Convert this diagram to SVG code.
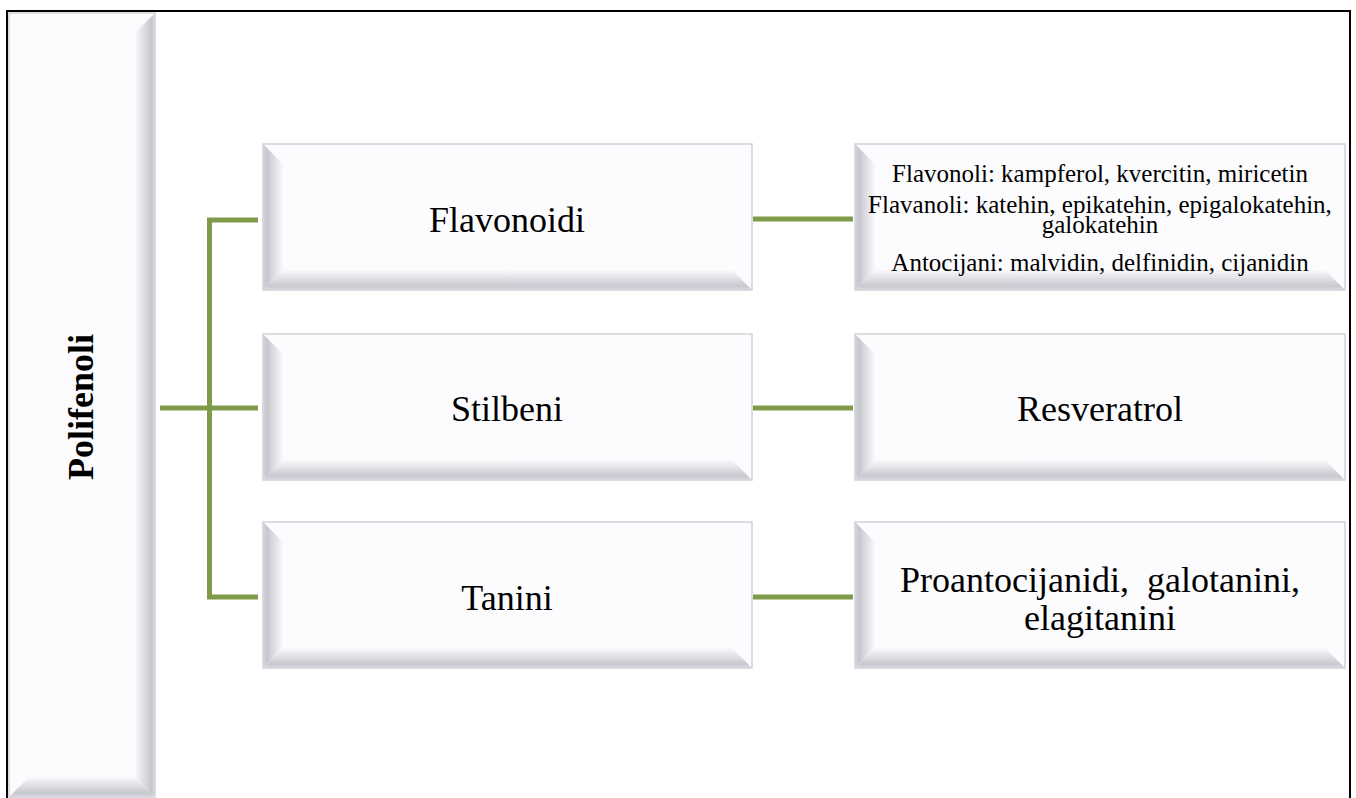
<svg xmlns="http://www.w3.org/2000/svg" width="1356" height="798" viewBox="0 0 1356 798">
<defs>
<linearGradient id="gL" x1="0" y1="0" x2="1" y2="0"><stop offset="0" stop-color="#D6D6DC"/><stop offset="0.2" stop-color="#C6C6CE"/><stop offset="1" stop-color="#FAFAFC"/></linearGradient>
<linearGradient id="gR" x1="0" y1="0" x2="1" y2="0"><stop offset="0" stop-color="#FAFAFC"/><stop offset="0.8" stop-color="#C6C6CE"/><stop offset="1" stop-color="#D6D6DC"/></linearGradient>
<linearGradient id="gB" x1="0" y1="0" x2="0" y2="1"><stop offset="0" stop-color="#FAFAFC"/><stop offset="0.8" stop-color="#C8C8D0"/><stop offset="1" stop-color="#D8D8DE"/></linearGradient>
<style>
.box{fill:#FCFCFE;stroke:#D2D2D8;stroke-width:1.5}
.t{font-family:"Liberation Serif","Times New Roman",serif;fill:#000;text-anchor:middle}
.big{font-size:36px}
.sm{font-size:25px}
.con{stroke:#7F9B4A;stroke-width:5;fill:none}
</style>
</defs>
<rect x="0" y="0" width="1356" height="798" fill="#FFFFFF"/>
<rect x="7" y="11" width="1343" height="800" fill="none" stroke="#000" stroke-width="2"/>

<g id="polifenoli">
<rect class="box" x="9" y="13" width="146" height="784"/>
<polygon points="155,13 135,33 135,777 155,797" fill="url(#gR)"/>
<polygon points="9,797 29,777 135,777 155,797" fill="url(#gB)"/>
<text class="t" font-weight="bold" font-size="36" transform="translate(93,407) rotate(-90)" x="0" y="0">Polifenoli</text>
</g>

<g id="connectors">
<path class="con" d="M258,220 H209.5 V597 H258"/>
<path class="con" d="M160,408 H258"/>
<path class="con" d="M753,219 H853"/>
<path class="con" d="M753,408 H853"/>
<path class="con" d="M753,597 H853"/>
</g>

<g id="flavonoidi">
<rect class="box" x="263" y="144" width="489" height="146"/>
<polygon points="263,144 283,164 283,270 263,290" fill="url(#gL)"/>
<polygon points="263,290 283,270 732,270 752,290" fill="url(#gB)"/>
<text class="t big" x="507" y="232">Flavonoidi</text>
</g>

<g id="stilbeni">
<rect class="box" x="263" y="334" width="489" height="146"/>
<polygon points="263,334 283,354 283,460 263,480" fill="url(#gL)"/>
<polygon points="263,480 283,460 732,460 752,480" fill="url(#gB)"/>
<text class="t big" x="507" y="421">Stilbeni</text>
</g>

<g id="tanini">
<rect class="box" x="263" y="522" width="489" height="146"/>
<polygon points="263,522 283,542 283,648 263,668" fill="url(#gL)"/>
<polygon points="263,668 283,648 732,648 752,668" fill="url(#gB)"/>
<text class="t big" x="507" y="610">Tanini</text>
</g>

<g id="flavonoidi-primjeri">
<rect class="box" x="855" y="144" width="490" height="146"/>
<polygon points="855,144 875,164 875,270 855,290" fill="url(#gL)"/>
<polygon points="855,290 875,270 1325,270 1345,290" fill="url(#gB)"/>
<text class="t sm" x="1100" y="182">Flavonoli: kampferol, kvercitin, miricetin</text>
<text class="t sm" x="1100" y="213">Flavanoli: katehin, epikatehin, epigalokatehin,</text>
<text class="t sm" x="1100" y="233">galokatehin</text>
<text class="t sm" x="1100" y="271">Antocijani: malvidin, delfinidin, cijanidin</text>
</g>

<g id="resveratrol">
<rect class="box" x="855" y="334" width="490" height="146"/>
<polygon points="855,334 875,354 875,460 855,480" fill="url(#gL)"/>
<polygon points="855,480 875,460 1325,460 1345,480" fill="url(#gB)"/>
<text class="t big" x="1100" y="421">Resveratrol</text>
</g>

<g id="tanini-primjeri">
<rect class="box" x="855" y="522" width="490" height="146"/>
<polygon points="855,522 875,542 875,648 855,668" fill="url(#gL)"/>
<polygon points="855,668 875,648 1325,648 1345,668" fill="url(#gB)"/>
<text class="t big" x="1100" y="592" xml:space="preserve">Proantocijanidi,  galotanini,</text>
<text class="t big" x="1100" y="630">elagitanini</text>
</g>
</svg>
